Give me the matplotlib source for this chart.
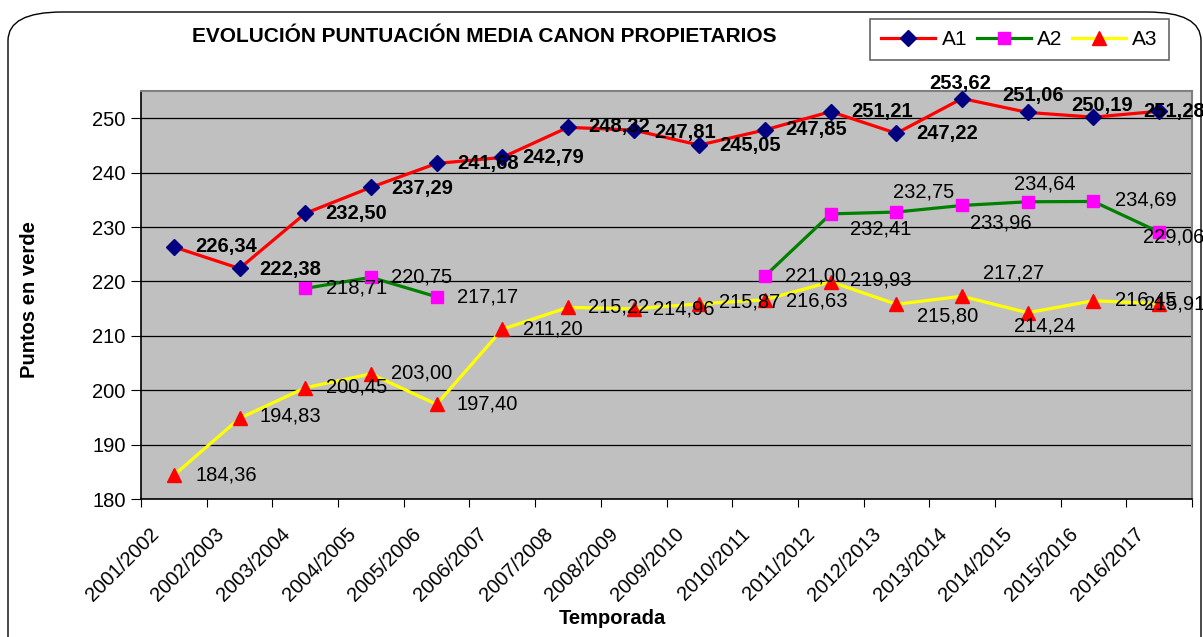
import numpy as np
import matplotlib
matplotlib.use("Agg")
import matplotlib.pyplot as plt
from matplotlib.patches import FancyBboxPatch
from matplotlib.transforms import ScaledTranslation

plt.rcParams['font.family'] = ['Liberation Sans', 'DejaVu Sans']

# data
temporadas = ["2001/2002", "2002/2003", "2003/2004", "2004/2005", "2005/2006",
              "2006/2007", "2007/2008", "2008/2009", "2009/2010", "2010/2011",
              "2011/2012", "2012/2013", "2013/2014", "2014/2015", "2015/2016",
              "2016/2017"]
a1 = [226.34, 222.38, 232.50, 237.29, 241.68, 242.79, 248.32, 247.81,
      245.05, 247.85, 251.21, 247.22, 253.62, 251.06, 250.19, 251.28]
a2 = [np.nan, np.nan, 218.71, 220.75, 217.17, np.nan, np.nan, np.nan,
      np.nan, 221.00, 232.41, 232.75, 233.96, 234.64, 234.69, 229.06]
a3 = [184.36, 194.83, 200.45, 203.00, 197.40, 211.20, 215.22, 214.96,
      215.87, 216.63, 219.93, 215.80, 217.27, 214.24, 216.45, 215.91]

# label offsets in pixels (dx right, dy down) from the marker
off_a1 = [(52, 0), (51, 1), (51, 0), (51, 1), (51, 0), (51, 0), (51, -1), (51, 2),
          (51, 0), (51, 0), (51, 0), (51, 0), (-2, -15), (5, -17), (9, -12), (15, 0)]
off_a2 = [None, None, (51, 0), (51, 0), (51, 0), None, None, None,
          None, (51, 0), (50, 15), (27, -20), (39, 18), (17, -18), (52, -1), (15, 5)]
off_a3 = [(52, 0), (51, -2), (51, -1), (51, -1), (51, 0), (51, 0), (51, 0), (50, 0),
          (50, -2), (52, 1), (50, -2), (51, 12), (51, -23), (17, 13), (52, -1), (15, 0)]

W, H = 1203, 637
fig = plt.figure(figsize=(W / 100, H / 100), dpi=100)
ax = fig.add_axes([141 / W, 1 - 499 / H, (1192 - 141) / W, (499 - 91) / H])

# rounded chart border
fig.patches.append(FancyBboxPatch((8 / W, -0.1), (1201 - 8) / W, 1 - 12 / H + 0.1,
                                  boxstyle="round,pad=0,rounding_size=0.045",
                                  transform=fig.transFigure, fill=False,
                                  edgecolor='black', linewidth=1.0))

x = np.arange(len(temporadas))
ax.set_facecolor('#C0C0C0')
ax.plot(x, a1, color='#FF0000', lw=2.3, marker='D', ms=8.5,
        mfc='#000080', mec='#000080', label='A1', zorder=3)
ax.plot(x, a2, color='#008000', lw=2.3, marker='s', ms=9,
        mfc='#FF00FF', mec='#FF00FF', label='A2', zorder=3)
ax.plot(x, a3, color='#FFFF00', lw=2.3, marker='^', ms=10,
        mfc='#FF0000', mec='#FF0000', label='A3', zorder=3)


def fmt(v):
    return f"{v:.2f}".replace('.', ',')


for vals, offs, weight in [(a1, off_a1, 'bold'), (a2, off_a2, 'normal'), (a3, off_a3, 'normal')]:
    for i, (v, o) in enumerate(zip(vals, offs)):
        if o is None or np.isnan(v):
            continue
        ax.annotate(fmt(v), (i, v), xytext=(o[0], -o[1]), textcoords='offset pixels',
                    ha='center', va='center', fontsize=14.5, fontweight=weight,
                    zorder=5, annotation_clip=False)

ax.set_xlim(-0.5, len(temporadas) - 0.5)
ax.set_ylim(180, 255)
ax.set_yticks(np.arange(180, 251, 10))
ax.yaxis.grid(True, color='black', lw=0.9)
ax.set_axisbelow(True)
ax.tick_params(axis='y', direction='out', length=7, labelsize=14.5, pad=4)

ax.set_xticks(np.arange(-0.5, len(temporadas), 1))
ax.set_xticklabels([])
ax.set_xticks(x, minor=True)
ax.set_xticklabels(temporadas, minor=True, rotation=45, ha='right', va='top',
                   rotation_mode='anchor', fontsize=14.5)
ax.tick_params(axis='x', which='major', direction='out', length=6)
ax.tick_params(axis='x', which='minor', length=0, pad=12)
shift = ScaledTranslation(-25 / 100, -9 / 100, fig.dpi_scale_trans)
for lbl in ax.get_xticklabels(minor=True):
    lbl.set_transform(lbl.get_transform() + shift)

for s in ['top', 'right']:
    ax.spines[s].set_color('#808080')
    ax.spines[s].set_linewidth(1.5)
for s in ['left', 'bottom']:
    ax.spines[s].set_color('black')
    ax.spines[s].set_linewidth(1.2)

fig.text(484 / W, 1 - 37 / H, "EVOLUCIÓN PUNTUACIÓN MEDIA CANON PROPIETARIOS",
         ha='center', va='center', fontsize=15, fontweight='bold')
fig.text(30 / W, 1 - 300 / H, "Puntos en verde", rotation=90,
         ha='center', va='center', fontsize=14.5, fontweight='bold')
fig.text(612 / W, 1 - 618 / H, "Temporada", ha='center', va='center',
         fontsize=14.5, fontweight='bold')

leg = fig.legend(loc='center', bbox_to_anchor=(1019.5 / W, 1 - 39.5 / H), ncol=3,
                 fontsize=15, frameon=True, fancybox=False, edgecolor='#404040',
                 handlelength=2.6, handletextpad=0.3, columnspacing=0.45,
                 borderpad=0.55, borderaxespad=0)
leg.get_frame().set_linewidth(1.2)

fig.savefig("out.png", dpi=100)
